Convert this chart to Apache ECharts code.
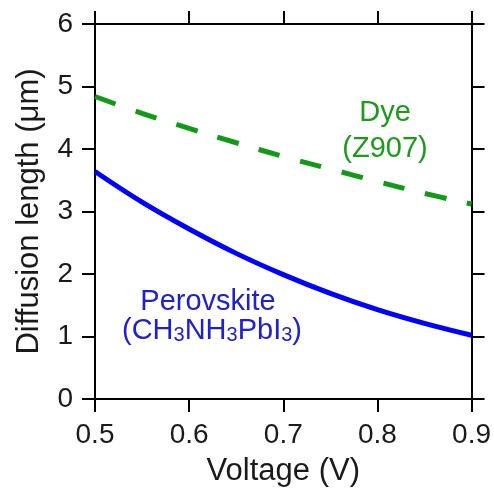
<!DOCTYPE html>
<html><head><meta charset="utf-8">
<script src="https://cdn.jsdelivr.net/npm/echarts@6/dist/echarts.min.js"></script>
<style>html,body{margin:0;padding:0;background:#fff}#c{width:494px;height:492px}</style>
</head><body><div id="c"></div>
<script>
const voltage = [0.5, 0.55, 0.6, 0.65, 0.7, 0.75, 0.8, 0.85, 0.9];
const perovskite = [3.64, 3.15, 2.72, 2.33, 1.99, 1.69, 1.43, 1.21, 1.02];
const dye = [4.84, 4.57, 4.33, 4.10, 3.88, 3.68, 3.48, 3.29, 3.12];
const xTicks = [0.5, 0.6, 0.7, 0.8, 0.9];
const yTicks = [0, 1, 2, 3, 4, 5, 6];
const xName = 'Voltage (V)';
const yName = 'Diffusion length (\u03bcm)';
const dyeLabel = ['Dye', '(Z907)'];
const perovLabel = ['Perovskite', '(CH{s|3}NH{s|3}PbI{s|3})'];

const FONT = '"Liberation Sans", Arial, Helvetica, sans-serif';
const chart = echarts.init(document.getElementById('c'), null, {renderer: 'canvas'});

const axisLine = {show: true, onZero: false, lineStyle: {color: '#000', width: 2}};
const axisTick = {show: true, inside: false, length: 13, lineStyle: {color: '#000', width: 2}};

function xAxisDef(pos, showLabel) {
  return {
    type: 'value', position: pos,
    min: xTicks[0], max: xTicks[xTicks.length - 1], interval: 0.1,
    axisLine, axisTick,
    splitLine: {show: false},
    axisLabel: {show: showLabel, margin: 22, fontSize: 28, color: '#1a1a1a', fontFamily: FONT,
      formatter: v => v.toFixed(1)},
    name: showLabel ? xName : '', nameLocation: 'middle', nameGap: 57,
    nameTextStyle: {fontSize: 31, color: '#1a1a1a', fontFamily: FONT}
  };
}
function yAxisDef(pos, showLabel) {
  return {
    type: 'value', position: pos,
    min: yTicks[0], max: yTicks[yTicks.length - 1], interval: 1,
    axisLine, axisTick,
    splitLine: {show: false},
    axisLabel: {show: showLabel, margin: 22, fontSize: 28, color: '#1a1a1a', fontFamily: FONT},
    name: showLabel ? yName : '', nameLocation: 'middle', nameGap: 50, nameRotate: 90,
    nameTextStyle: {fontSize: 31, color: '#1a1a1a', fontFamily: FONT}
  };
}

chart.setOption({
  animation: false,
  backgroundColor: '#fff',
  textStyle: {fontFamily: FONT},
  grid: {left: 95, right: 21, top: 24, bottom: 88, containLabel: false},
  xAxis: [xAxisDef('bottom', true), xAxisDef('top', false)],
  yAxis: [yAxisDef('left', true), yAxisDef('right', false)],
  series: [
    {
      type: 'line', xAxisIndex: 0, yAxisIndex: 0, smooth: 0.4, showSymbol: false, symbol: 'none',
      data: voltage.map((v, i) => [v, dye[i]]),
      lineStyle: {color: '#109a18', width: 5, type: [22, 21], cap: 'butt'}
    },
    {
      type: 'line', xAxisIndex: 0, yAxisIndex: 0, smooth: 0.4, showSymbol: false, symbol: 'none',
      data: voltage.map((v, i) => [v, perovskite[i]]),
      lineStyle: {color: '#0000ff', width: 5}
    }
  ],
  graphic: [
    {type: 'text', x: 385, y: 113, style: {text: dyeLabel[0], align: 'center', verticalAlign: 'middle', fontSize: 29, fontFamily: FONT, fill: '#1c9a1c'}},
    {type: 'text', x: 385, y: 149, style: {text: dyeLabel[1], align: 'center', verticalAlign: 'middle', fontSize: 29, fontFamily: FONT, fill: '#1c9a1c'}},
    {type: 'text', x: 208, y: 302, style: {text: perovLabel[0], align: 'center', verticalAlign: 'middle', fontSize: 29, fontFamily: FONT, fill: '#2020cc'}},
    {type: 'text', x: 212, y: 331, style: {
      text: perovLabel[1], align: 'center', verticalAlign: 'middle', fontSize: 29, fontFamily: FONT, fill: '#2020cc',
      rich: {
        s: {fontSize: 20, fontFamily: FONT, fill: '#2020cc', verticalAlign: 'bottom', lineHeight: 20, padding: [12, 0, 0, 0]}
      }
    }}
  ]
});
</script>
</body></html>
